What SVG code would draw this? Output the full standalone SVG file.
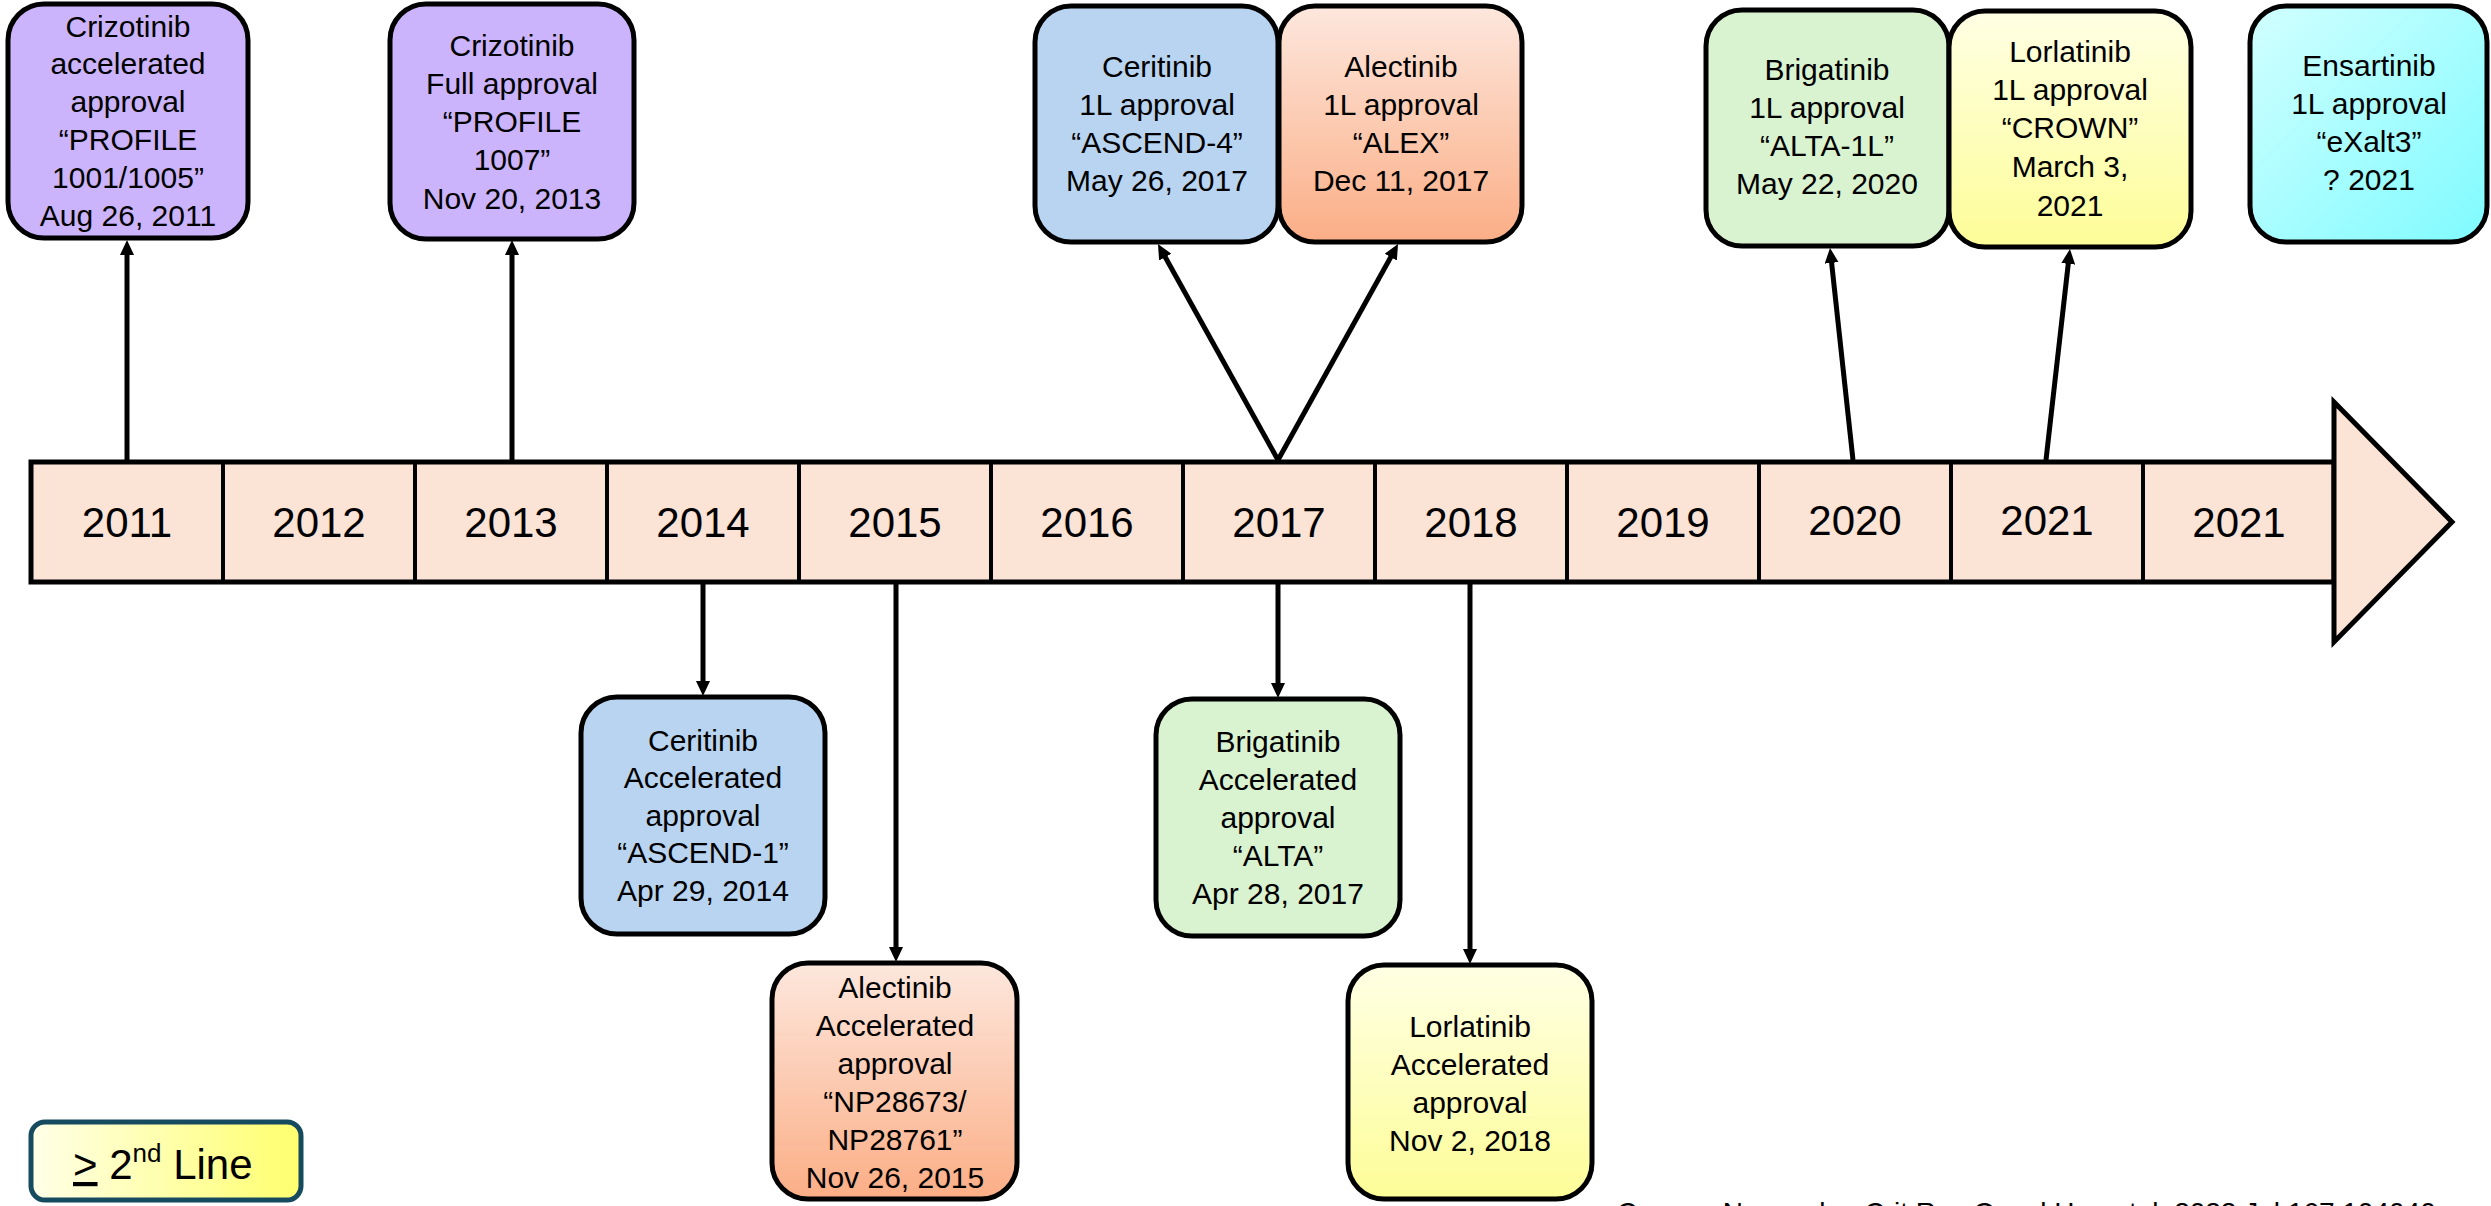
<svg xmlns="http://www.w3.org/2000/svg" width="2491" height="1206" viewBox="0 0 2491 1206">
<style>
.box{stroke:#000;stroke-width:5}
.t{font-family:"Liberation Sans",Arial,sans-serif;font-size:30px;fill:#000;text-anchor:middle}
.yr{font-family:"Liberation Sans",Arial,sans-serif;font-size:42px;fill:#000;text-anchor:middle}
.conn{stroke:#000;stroke-width:5;fill:none;marker-end:url(#ah)}
.div{stroke:#000;stroke-width:4}
.purple{fill:#cbb4fb}
.blue{fill:#b9d4f0}
.green{fill:#d9f2d0}
.orange{fill:url(#gOr)}
.yellow{fill:url(#gYe)}
.cyan{fill:url(#gCy)}
</style>
<defs>
<marker id="ah" markerUnits="userSpaceOnUse" markerWidth="15" markerHeight="14" viewBox="0 0 15 14" refX="3" refY="7" orient="auto"><path d="M0,0 L15,7 L0,14 z" fill="#000"/></marker>
<linearGradient id="gOr" x1="0" y1="0" x2="0" y2="1"><stop offset="0" stop-color="#fde7dd"/><stop offset="1" stop-color="#fbae86"/></linearGradient>
<linearGradient id="gYe" x1="0" y1="0" x2="0" y2="1"><stop offset="0" stop-color="#ffffe4"/><stop offset="1" stop-color="#fdfd98"/></linearGradient>
<linearGradient id="gCy" x1="0" y1="0" x2="1" y2="1"><stop offset="0" stop-color="#d2ffff"/><stop offset="1" stop-color="#7ffbff"/></linearGradient>
<linearGradient id="gLg" x1="0" y1="0" x2="1" y2="0"><stop offset="0" stop-color="#ffffe8"/><stop offset="1" stop-color="#ffff6e"/></linearGradient>
</defs>
<rect width="2491" height="1206" fill="#fff"/>

<g id="timeline">
<rect x="31" y="462" width="2303" height="120" fill="#fbe3d6" stroke="#000" stroke-width="5"/>
<polygon points="2334,402 2452,522 2334,642" fill="#fbe3d6" stroke="#000" stroke-width="5" stroke-linejoin="miter"/>
<line class="div" x1="223" y1="462" x2="223" y2="582"/>
<line class="div" x1="415" y1="462" x2="415" y2="582"/>
<line class="div" x1="607" y1="462" x2="607" y2="582"/>
<line class="div" x1="799" y1="462" x2="799" y2="582"/>
<line class="div" x1="991" y1="462" x2="991" y2="582"/>
<line class="div" x1="1183" y1="462" x2="1183" y2="582"/>
<line class="div" x1="1375" y1="462" x2="1375" y2="582"/>
<line class="div" x1="1567" y1="462" x2="1567" y2="582"/>
<line class="div" x1="1759" y1="462" x2="1759" y2="582"/>
<line class="div" x1="1951" y1="462" x2="1951" y2="582"/>
<line class="div" x1="2143" y1="462" x2="2143" y2="582"/>
<text class="yr" x="127" y="537">2011</text>
<text class="yr" x="319" y="537">2012</text>
<text class="yr" x="511" y="537">2013</text>
<text class="yr" x="703" y="537">2014</text>
<text class="yr" x="895" y="537">2015</text>
<text class="yr" x="1087" y="537">2016</text>
<text class="yr" x="1279" y="537">2017</text>
<text class="yr" x="1471" y="537">2018</text>
<text class="yr" x="1663" y="537">2019</text>
<text class="yr" x="1855" y="535">2020</text>
<text class="yr" x="2047" y="535">2021</text>
<text class="yr" x="2239" y="537">2021</text>
</g>

<g id="connectors">
<line class="conn" x1="127" y1="460" x2="127" y2="252"/>
<line class="conn" x1="512" y1="460" x2="512" y2="252"/>
<line class="conn" x1="1278" y1="460" x2="1163.8" y2="254.5"/>
<line class="conn" x1="1278" y1="460" x2="1392.2" y2="254.5"/>
<line class="conn" x1="1853" y1="460" x2="1831.3" y2="259.9"/>
<line class="conn" x1="2046" y1="460" x2="2068.6" y2="260.9"/>
<line class="conn" x1="703" y1="584" x2="703" y2="684"/>
<line class="conn" x1="896" y1="584" x2="896" y2="950"/>
<line class="conn" x1="1278" y1="584" x2="1278" y2="686"/>
<line class="conn" x1="1470" y1="584" x2="1470" y2="952"/>
</g>

<g id="crizotinib-accelerated">
<rect class="box purple" x="8" y="4" width="240" height="234" rx="36"/>
<text class="t" x="128" y="37">Crizotinib</text>
<text class="t" x="128" y="74">accelerated</text>
<text class="t" x="128" y="112">approval</text>
<text class="t" x="128" y="150">“PROFILE</text>
<text class="t" x="128" y="188">1001/1005”</text>
<text class="t" x="128" y="226">Aug 26, 2011</text>
</g>

<g id="crizotinib-full">
<rect class="box purple" x="390" y="4" width="244" height="235" rx="36"/>
<text class="t" x="512" y="56">Crizotinib</text>
<text class="t" x="512" y="94">Full approval</text>
<text class="t" x="512" y="132">“PROFILE</text>
<text class="t" x="512" y="170">1007”</text>
<text class="t" x="512" y="209">Nov 20, 2013</text>
</g>

<g id="ceritinib-1l">
<rect class="box blue" x="1035" y="6" width="243" height="236" rx="36"/>
<text class="t" x="1157" y="77">Ceritinib</text>
<text class="t" x="1157" y="115">1L approval</text>
<text class="t" x="1157" y="153">“ASCEND-4”</text>
<text class="t" x="1157" y="191">May 26, 2017</text>
</g>

<g id="alectinib-1l">
<rect class="box orange" x="1279" y="6" width="243" height="236" rx="36"/>
<text class="t" x="1401" y="77">Alectinib</text>
<text class="t" x="1401" y="115">1L approval</text>
<text class="t" x="1401" y="153">“ALEX”</text>
<text class="t" x="1401" y="191">Dec 11, 2017</text>
</g>

<g id="brigatinib-1l">
<rect class="box green" x="1706" y="10" width="243" height="236" rx="36"/>
<text class="t" x="1827" y="80">Brigatinib</text>
<text class="t" x="1827" y="118">1L approval</text>
<text class="t" x="1827" y="156">“ALTA-1L”</text>
<text class="t" x="1827" y="194">May 22, 2020</text>
</g>

<g id="lorlatinib-1l">
<rect class="box yellow" x="1949" y="11" width="242" height="236" rx="36"/>
<text class="t" x="2070" y="62">Lorlatinib</text>
<text class="t" x="2070" y="100">1L approval</text>
<text class="t" x="2070" y="138">“CROWN”</text>
<text class="t" x="2070" y="177">March 3,</text>
<text class="t" x="2070" y="216">2021</text>
</g>

<g id="ensartinib-1l">
<rect class="box cyan" x="2250" y="6" width="237" height="236" rx="36"/>
<text class="t" x="2369" y="76">Ensartinib</text>
<text class="t" x="2369" y="114">1L approval</text>
<text class="t" x="2369" y="152">“eXalt3”</text>
<text class="t" x="2369" y="190">? 2021</text>
</g>

<g id="ceritinib-accelerated">
<rect class="box blue" x="581" y="697" width="244" height="237" rx="36"/>
<text class="t" x="703" y="751">Ceritinib</text>
<text class="t" x="703" y="788">Accelerated</text>
<text class="t" x="703" y="826">approval</text>
<text class="t" x="703" y="863">“ASCEND-1”</text>
<text class="t" x="703" y="901">Apr 29, 2014</text>
</g>

<g id="alectinib-accelerated">
<rect class="box orange" x="772" y="963" width="245" height="236" rx="36"/>
<text class="t" x="895" y="998">Alectinib</text>
<text class="t" x="895" y="1036">Accelerated</text>
<text class="t" x="895" y="1074">approval</text>
<text class="t" x="895" y="1112">“NP28673/</text>
<text class="t" x="895" y="1150">NP28761”</text>
<text class="t" x="895" y="1188">Nov 26, 2015</text>
</g>

<g id="brigatinib-accelerated">
<rect class="box green" x="1156" y="699" width="244" height="237" rx="36"/>
<text class="t" x="1278" y="752">Brigatinib</text>
<text class="t" x="1278" y="790">Accelerated</text>
<text class="t" x="1278" y="828">approval</text>
<text class="t" x="1278" y="866">“ALTA”</text>
<text class="t" x="1278" y="904">Apr 28, 2017</text>
</g>

<g id="lorlatinib-accelerated">
<rect class="box yellow" x="1348" y="965" width="244" height="234" rx="36"/>
<text class="t" x="1470" y="1037">Lorlatinib</text>
<text class="t" x="1470" y="1075">Accelerated</text>
<text class="t" x="1470" y="1113">approval</text>
<text class="t" x="1470" y="1151">Nov 2, 2018</text>
</g>

<g id="legend">
<rect x="31" y="1122" width="270" height="78" rx="14" fill="url(#gLg)" stroke="#164a5f" stroke-width="5"/>
<text x="73" y="1179" font-family="Liberation Sans, Arial, sans-serif" font-size="42" fill="#000"><tspan text-decoration="underline">&gt;</tspan> 2<tspan font-size="26" dy="-17">nd</tspan><tspan dy="17"> Line</tspan></text>
</g>

<g id="citation">
<text x="1617" y="1222" font-family="Liberation Sans, Arial, sans-serif" font-size="28" fill="#000">Cooper, Nagasaka, Crit Rev Oncol Hematol. 2022 Jul;167:104040</text>
</g>
</svg>
